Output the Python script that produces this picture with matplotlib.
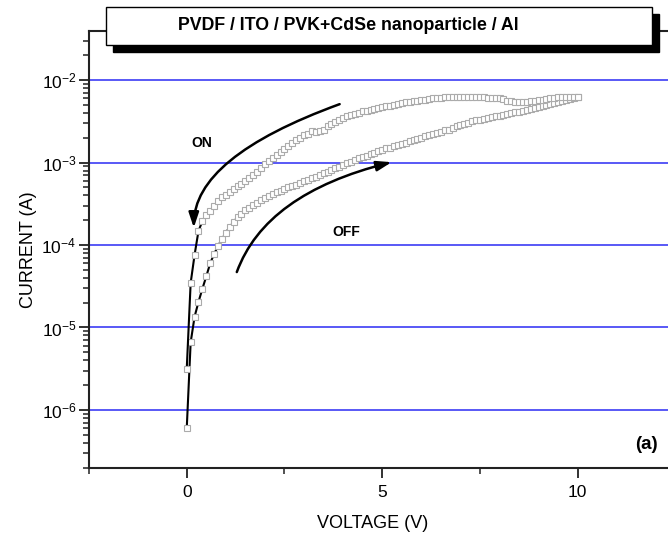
import matplotlib
matplotlib.use("Agg")
import matplotlib.pyplot as plt
from matplotlib.patches import Rectangle
from matplotlib.ticker import LogLocator, MultipleLocator, FixedLocator
import numpy as np

plt.rcParams['font.family'] = ['Liberation Sans', 'DejaVu Sans']
plt.rcParams['mathtext.fontset'] = 'custom'
plt.rcParams['mathtext.rm'] = 'Liberation Sans'
plt.rcParams['mathtext.it'] = 'Liberation Sans:italic'
plt.rcParams['mathtext.bf'] = 'Liberation Sans:bold'

# sweep voltage (V), 0.1 V step
voltage = [round(0.1 * i, 1) for i in range(101)]

# forward sweep 0 -> 10 V (OFF state), log10 of current (A)
off_log_i = [
    -6.22, -5.18, -4.87, -4.69, -4.53, -4.38, -4.22, -4.11, -4.01, -3.93,
    -3.85, -3.78, -3.72, -3.66, -3.62, -3.58, -3.55, -3.52, -3.49, -3.46,
    -3.43, -3.41, -3.38, -3.36, -3.34, -3.32, -3.30, -3.29, -3.27, -3.25,
    -3.23, -3.21, -3.19, -3.17, -3.15, -3.13, -3.11, -3.09, -3.07, -3.05,
    -3.03, -3.01, -2.99, -2.97, -2.95, -2.93, -2.92, -2.90, -2.88, -2.86,
    -2.85, -2.83, -2.82, -2.80, -2.79, -2.78, -2.76, -2.74, -2.73, -2.72,
    -2.70, -2.68, -2.67, -2.66, -2.64, -2.63, -2.61, -2.60, -2.58, -2.56,
    -2.54, -2.53, -2.52, -2.50, -2.49, -2.48, -2.47, -2.46, -2.45, -2.44,
    -2.43, -2.42, -2.41, -2.40, -2.39, -2.39, -2.38, -2.36, -2.35, -2.34,
    -2.33, -2.31, -2.30, -2.29, -2.28, -2.27, -2.25, -2.24, -2.23, -2.22,
    -2.20,
]

# reverse sweep 10 -> 0 V (ON state), listed from 0 V up, log10 of current (A)
on_log_i = [
    -5.50, -4.46, -4.12, -3.83, -3.71, -3.64, -3.59, -3.53, -3.47, -3.42,
    -3.39, -3.36, -3.32, -3.29, -3.26, -3.22, -3.19, -3.15, -3.11, -3.07,
    -3.02, -2.98, -2.94, -2.91, -2.87, -2.84, -2.80, -2.76, -2.73, -2.70,
    -2.67, -2.65, -2.62, -2.63, -2.62, -2.60, -2.56, -2.53, -2.51, -2.48,
    -2.46, -2.44, -2.42, -2.41, -2.40, -2.38, -2.37, -2.36, -2.35, -2.34,
    -2.33, -2.32, -2.31, -2.30, -2.29, -2.28, -2.27, -2.27, -2.26, -2.25,
    -2.24, -2.24, -2.23, -2.22, -2.22, -2.22, -2.21, -2.21, -2.21, -2.21,
    -2.21, -2.21, -2.20, -2.21, -2.21, -2.21, -2.21, -2.22, -2.22, -2.22,
    -2.22, -2.23, -2.25, -2.26, -2.27, -2.27, -2.27, -2.27, -2.26, -2.25,
    -2.24, -2.24, -2.23, -2.22, -2.22, -2.21, -2.21, -2.20, -2.20, -2.20,
    -2.20,
]

off_current = 10 ** np.array(off_log_i)
on_current = 10 ** np.array(on_log_i)

W, H = 668, 537
fig = plt.figure(figsize=(W / 100, H / 100), dpi=100)

# axes runs past the right edge of the picture (cropped original)
ax = fig.add_axes([89 / W, (H - 468) / H, 586.5 / W, 437 / H])
ax.set_yscale('log')
ax.set_xlim(-2.5, 12.5)
ax.set_ylim(1.98e-7, 3.93e-2)

ax.yaxis.set_major_locator(LogLocator(base=10, numticks=12))
ax.yaxis.set_minor_locator(LogLocator(base=10, subs=np.arange(2, 10), numticks=12))
ax.xaxis.set_major_locator(FixedLocator([0, 5, 10]))
ax.xaxis.set_minor_locator(MultipleLocator(2.5))

ax.yaxis.grid(True, which='major', color='#3c3cf5', lw=1.2)
ax.set_axisbelow(True)

for side in ['left', 'bottom', 'top']:
    ax.spines[side].set_linewidth(1.5)
    ax.spines[side].set_color('#222222')
ax.spines['right'].set_visible(False)

ax.tick_params(which='major', direction='out', length=7, width=1.3,
               labelsize=12.5, color='#222222')
ax.tick_params(which='minor', direction='out', length=4, width=1.1, color='#222222')
ax.tick_params(axis='x', pad=5)
ax.tick_params(axis='y', pad=2)

mk = dict(marker='s', markersize=4.0, markerfacecolor='white',
          markeredgecolor='#ababab', markeredgewidth=0.8,
          color='black', lw=1.5)
ax.plot(voltage, off_current, **mk)
ax.plot(voltage, on_current, **mk)

ax.set_xlabel('VOLTAGE (V)', fontsize=13)
ax.set_ylabel('CURRENT (A)', fontsize=13)
ax.xaxis.set_label_coords(0.484, -0.107)
ax.yaxis.set_label_coords(-0.088, 0.5)

# sweep direction arrows
arrow_kw = dict(arrowstyle='-|>,head_length=0.9,head_width=0.3', color='black',
                lw=1.8, mutation_scale=10, shrinkA=0, shrinkB=0)
ax.annotate('', xy=(0.18, 1.62e-4), xytext=(3.91, 5.1e-3),
            arrowprops=dict(connectionstyle='angle3,angleA=20,angleB=90', **arrow_kw))
ax.annotate('', xy=(5.24, 1.01e-3), xytext=(1.28, 4.7e-5),
            arrowprops=dict(connectionstyle='angle3,angleA=70,angleB=14', **arrow_kw))

ax.text(0.38, 1.73e-3, 'ON', fontsize=10, fontweight='bold', ha='center', va='center')
ax.text(4.09, 1.44e-4, 'OFF', fontsize=10, fontweight='bold', ha='center', va='center')
ax.text(11.76, 3.8e-7, '(a)', fontsize=13.5, fontweight='bold', ha='center', va='center')

# title box with drop shadow
fig.patches.append(Rectangle((113 / W, (H - 52) / H), 546 / W, 38 / H,
                             transform=fig.transFigure, facecolor='black',
                             edgecolor='black', zorder=5))
fig.patches.append(Rectangle((106 / W, (H - 45) / H), 546 / W, 38 / H,
                             transform=fig.transFigure, facecolor='white',
                             edgecolor='black', lw=1.0, zorder=6))
fig.text(348 / W, (H - 26) / H, 'PVDF / ITO / PVK+CdSe nanoparticle / Al',
         fontsize=12.8, fontweight='bold', ha='center', va='center', zorder=7)

plt.savefig('out.png', dpi=100)
plt.close()
